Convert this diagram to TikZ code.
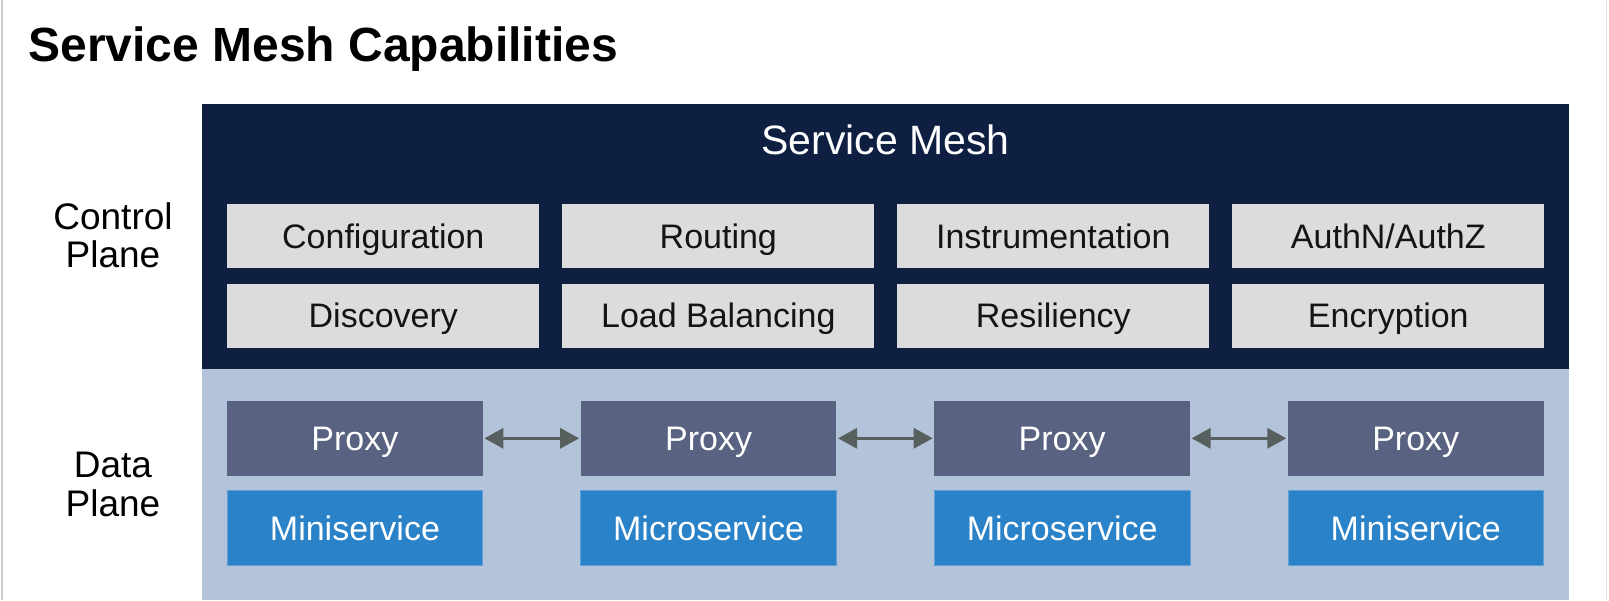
\documentclass[tikz,border=0pt]{standalone}
\usepackage{fontspec}
\setmainfont{Liberation Sans}
\usetikzlibrary{arrows.meta}

\definecolor{navy}{HTML}{0F1F41}
\definecolor{capgray}{HTML}{DCDCDE}
\definecolor{dataplane}{HTML}{B3C4DA}
\definecolor{proxyfill}{HTML}{5A6282}
\definecolor{servicefill}{HTML}{2A82C9}
\definecolor{arrowgray}{HTML}{58605F}
\definecolor{framegray}{HTML}{CCCCCC}

\begin{document}
\begin{tikzpicture}[x=1pt,y=-1pt,
  every node/.style={inner sep=0pt, outer sep=0pt},
  boxtext/.style={font=\fontsize{34}{34}\selectfont, text height=24.3pt, text depth=0pt},
  capbox/.style={boxtext, rectangle, fill=capgray, minimum width=312pt, minimum height=64pt,
    text=black!92},
  proxybox/.style={boxtext, rectangle, fill=proxyfill, minimum width=255.7pt, minimum height=74.7pt,
    text=white},
  svcbox/.style={boxtext, rectangle, fill=servicefill, draw=servicefill!75!white, line width=0.8pt,
    minimum width=255.7pt, minimum height=74.3pt, text=white},
  sidelabel/.style={anchor=base, font=\fontsize{37}{37}\selectfont, text=black},
  link/.style={{Triangle[length=19pt,width=20pt]}-{Triangle[length=19pt,width=20pt]},
    draw=arrowgray, line width=3.2pt, shorten <=1.6pt, shorten >=1.6pt}
]
\useasboundingbox (0,0) rectangle (1609,600);
\fill[white] (0,0) rectangle (1609,600);
% slide frame
\draw[framegray, line width=1.5pt] (2,0) -- (2,600);
\draw[framegray!50, line width=1pt] (1606.5,0) -- (1606.5,600);

% title
\node[anchor=base west, font=\bfseries\fontsize{48}{48}\selectfont] (title) at (28.5,61.5) {Service Mesh Capabilities};

% planes
\node[rectangle, fill=navy, anchor=north west, minimum width=1367pt, minimum height=265.3pt] (ctrl) at (202,104) {};
\node[rectangle, fill=dataplane, anchor=north west, minimum width=1367pt, minimum height=230.7pt] (data) at (202,369.3) {};
\node[anchor=base, text=white, font=\fontsize{41}{41}\selectfont] (meshlabel) at (885.5,154) {Service Mesh};

% side labels
\node[sidelabel] (ctrlA) at (113,229.5) {Control};
\node[sidelabel] (ctrlB) at (113,267.5) {Plane};
\node[sidelabel] (dataA) at (113,477) {Data};
\node[sidelabel] (dataB) at (113,516) {Plane};

% control plane capabilities
\node[capbox] (cfg)  at (383.3,236) {Configuration};
\node[capbox] (rte)  at (718.3,236) {Routing};
\node[capbox] (ins)  at (1053.3,236) {Instrumentation};
\node[capbox] (auth) at (1388.3,236) {AuthN/AuthZ};
\node[capbox] (dis)  at (383.3,315.5) {Discovery};
\node[capbox] (lb)   at (718.3,315.5) {Load Balancing};
\node[capbox] (res)  at (1053.3,315.5) {Resiliency};
\node[capbox] (enc)  at (1388.3,315.5) {Encryption};

% data plane: proxies and services
\node[proxybox] (p1) at (354.95,438.3) {Proxy};
\node[proxybox] (p2) at (708.55,438.3) {Proxy};
\node[proxybox] (p3) at (1062.15,438.3) {Proxy};
\node[proxybox] (p4) at (1415.75,438.3) {Proxy};
\node[svcbox] (s1) at (354.95,527.85) {Miniservice};
\node[svcbox] (s2) at (708.55,527.85) {Microservice};
\node[svcbox] (s3) at (1062.15,527.85) {Microservice};
\node[svcbox] (s4) at (1415.75,527.85) {Miniservice};

% proxy-to-proxy links
\draw[link] (p1.east) -- (p2.west);
\draw[link] (p2.east) -- (p3.west);
\draw[link] (p3.east) -- (p4.west);
\end{tikzpicture}
\end{document}
